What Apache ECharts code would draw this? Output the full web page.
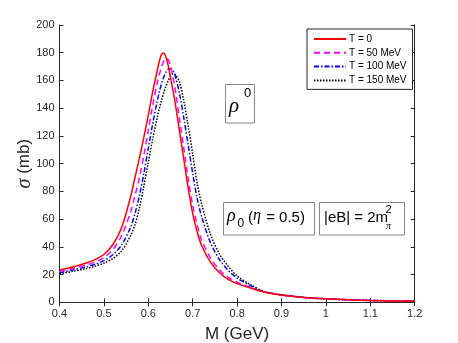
<!DOCTYPE html>
<html>
<head>
<meta charset="utf-8">
<script src="https://cdn.jsdelivr.net/npm/echarts@6/dist/echarts.min.js"></script>
<style>html,body{margin:0;padding:0;background:#fff;}#c{width:458px;height:343px;}</style>
</head>
<body>
<div id="c"></div>
<script>
// Invariant mass M (GeV)
var mass = [0.40,0.43,0.46,0.48,0.50,0.52,0.54,0.56,0.57,0.58,0.59,0.60,0.61,0.62,0.625,0.63,0.635,0.64,0.645,0.65,0.655,0.66,0.67,0.68,0.69,0.70,0.71,0.72,0.74,0.76,0.78,0.80,0.83,0.86,0.90,0.95,1.00,1.05,1.10,1.15,1.20];
// cross section sigma (mb)
var sigmaT0   = [23.3,25.5,28.3,30.8,34.5,41.5,54.0,76.0,90.0,104.0,119.0,135.0,152.0,167.0,174.0,179.0,179.6,176.5,170.5,162.0,154.0,145.0,124.0,103.0,82.0,64.0,51.0,41.0,29.0,21.5,16.5,13.5,10.3,7.5,5.2,3.5,2.5,1.8,1.3,1.0,0.8];
var sigmaT50  = [22.3,24.4,26.8,29.0,32.2,38.0,48.0,65.0,77.0,90.0,106.0,124.0,142.0,158.0,164.5,170.0,174.0,176.0,175.0,170.5,163.5,155.0,133.0,111.0,89.0,70.0,56.0,45.0,32.0,23.5,18.0,14.5,10.8,7.7,5.3,3.5,2.5,1.8,1.3,1.0,0.8];
var sigmaT100 = [21.4,23.3,25.5,27.4,30.0,34.3,41.5,54.0,64.0,77.0,93.0,111.0,129.0,145.0,152.0,158.0,162.5,166.0,168.0,168.7,167.5,164.0,151.0,133.0,113.0,93.0,75.0,62.0,43.0,31.0,23.0,17.5,12.0,7.8,5.3,3.5,2.5,1.8,1.35,1.05,0.85];
var sigmaT150 = [20.6,22.3,24.3,26.0,28.2,31.5,37.0,48.0,56.0,68.0,84.0,101.0,118.0,133.0,140.0,146.0,151.5,156.0,160.0,163.0,164.8,164.5,159.0,145.0,127.0,107.0,86.0,71.0,49.0,35.0,26.0,19.0,12.8,7.8,5.4,3.6,2.5,1.8,1.4,1.1,0.85];
var seriesNames = ['T = 0','T = 50 MeV','T = 100 MeV','T = 150 MeV'];
var xTickLabels = ['0.4','0.5','0.6','0.7','0.8','0.9','1','1.1','1.2'];
var yTickLabels = ['0','20','40','60','80','100','120','140','160','180','200'];

function pairs(ys){ return mass.map(function(m,i){ return [m, ys[i]]; }); }

var FONT = '"Liberation Sans", Arial, sans-serif';
var AX = '#262626';
var chart = echarts.init(document.getElementById('c'), null, {renderer:'canvas'});

var styles = [
  {color:'#ff0000', type:'solid'},
  {color:'#ff00ff', type:[6,4]},
  {color:'#0000ff', type:[5,2,1.5,2]},
  {color:'#000000', type:[1.5,1.5]}
];
var datas = [sigmaT0, sigmaT50, sigmaT100, sigmaT150];

var series = datas.map(function(d,i){
  return {
    name: seriesNames[i], type:'line', data: pairs(d), smooth:0.3,
    symbol:'none', showSymbol:false,
    xAxisIndex:0, yAxisIndex:0,
    lineStyle:{color:styles[i].color, type:styles[i].type, width:1.5},
    itemStyle:{color:styles[i].color},
    z: 10 - i
  };
});

function xl(v){ var s = (+v.toFixed(1)).toString(); return xTickLabels.indexOf(s) >= 0 ? s : ''; }
function yl(v){ var s = String(Math.round(v)); return yTickLabels.indexOf(s) >= 0 ? s : ''; }

var axisCommon = {
  axisLine:{show:true, lineStyle:{color:AX, width:1}},
  axisTick:{show:true, inside:true, length:4, lineStyle:{color:AX, width:1}},
  splitLine:{show:false}
};

chart.setOption({
  animation:false,
  backgroundColor:'#fff',
  grid:{left:59.5, right:43.3, top:25, bottom:40.7, containLabel:false, outerBoundsMode:'none'},
  legend:{
    data: seriesNames, orient:'vertical', left:307, top:29,
    padding:[5,6,4,6], itemWidth:32, itemHeight:12, itemGap:3.8,
    borderColor:'#262626', borderWidth:1, backgroundColor:'#fff',
    textStyle:{fontFamily:FONT, fontSize:10, color:'#000', padding:[0,0,0,-2]},
    itemStyle:{opacity:0, borderWidth:0}
  },
  xAxis:[
    Object.assign({type:'value', min:0.4, max:1.2, interval:0.1, position:'bottom',
      name:'M (GeV)', nameLocation:'middle', nameGap:24,
      nameTextStyle:{fontFamily:FONT, fontSize:17, color:AX},
      axisLabel:{fontFamily:FONT, fontSize:11, color:AX, margin:6, formatter:xl}}, axisCommon),
    Object.assign({type:'value', min:0.4, max:1.2, interval:0.1, position:'top',
      axisLabel:{show:false}}, axisCommon)
  ],
  yAxis:[
    Object.assign({type:'value', min:0, max:200, interval:20, position:'left',
      name:'{s|σ} (mb)', nameLocation:'middle', nameGap:25, nameMoveOverlap:false,
      nameTextStyle:{fontFamily:FONT, fontSize:17, color:AX,
        rich:{s:{fontFamily:'"Liberation Serif", serif', fontStyle:'italic', fontSize:20, color:AX}}},
      axisLabel:{fontFamily:FONT, fontSize:11, color:AX, margin:5, formatter:yl}}, axisCommon),
    Object.assign({type:'value', min:0, max:200, interval:20, position:'right',
      axisLabel:{show:false}}, axisCommon)
  ],
  series: series,
  graphic:[
    // rho^0 box
    {type:'rect', shape:{x:225.5, y:84.5, width:29, height:38.5}, style:{fill:'#fff', stroke:'#888', lineWidth:1}, z:20},
    {type:'text', x:229, y:96, style:{text:'ρ', font:'italic 21px "Liberation Serif", serif', fill:'#000'}, z:21},
    {type:'text', x:244, y:87, style:{text:'0', font:'13px "Liberation Sans", Arial, sans-serif', fill:'#000'}, z:21},
    // rho_0 (eta = 0.5) box
    {type:'rect', shape:{x:223.5, y:202.5, width:91, height:32.5}, style:{fill:'#fff', stroke:'#888', lineWidth:1}, z:20},
    {type:'text', x:227, y:207, style:{text:'ρ', font:'italic 18px "Liberation Serif", serif', fill:'#000'}, z:21},
    {type:'text', x:237.5, y:218, style:{text:'0', font:'12px "Liberation Sans", Arial, sans-serif', fill:'#000'}, z:21},
    {type:'text', x:248, y:210, style:{text:'(', font:'15px "Liberation Sans", Arial, sans-serif', fill:'#000'}, z:21},
    {type:'text', x:253, y:208, style:{text:'η', font:'italic 16px "Liberation Serif", serif', fill:'#000'}, z:21},
    {type:'text', x:262, y:210, style:{text:' = 0.5)', font:'15px "Liberation Sans", Arial, sans-serif', fill:'#000'}, z:21},
    // |eB| box
    {type:'rect', shape:{x:319.5, y:202.5, width:85, height:32.5}, style:{fill:'#fff', stroke:'#888', lineWidth:1}, z:20},
    {type:'text', x:324, y:210, style:{text:'|eB| = 2m', font:'15px "Liberation Sans", Arial, sans-serif', fill:'#000'}, z:21},
    {type:'text', x:385.5, y:204, style:{text:'2', font:'11px "Liberation Sans", Arial, sans-serif', fill:'#000'}, z:21},
    {type:'text', x:386, y:221, style:{text:'π', font:'italic 10px "Liberation Serif", serif', fill:'#000'}, z:21}
  ]
});
</script>
</body>
</html>
